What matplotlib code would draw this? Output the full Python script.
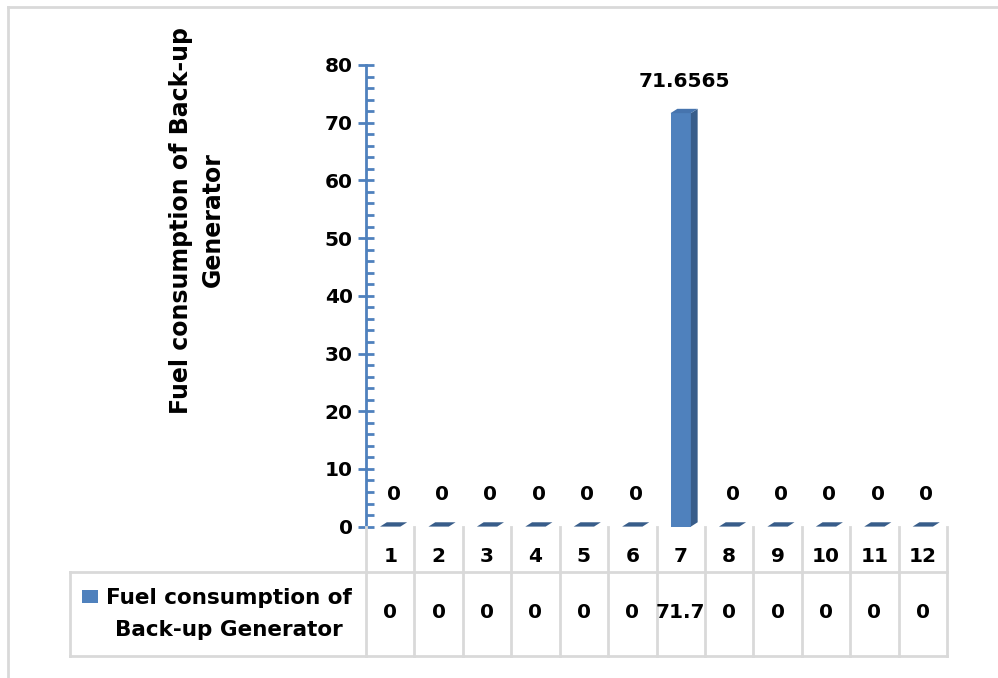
import matplotlib
matplotlib.use("Agg")
import matplotlib.pyplot as plt
from matplotlib.lines import Line2D
from matplotlib.patches import Polygon, Rectangle
from matplotlib.ticker import MultipleLocator
import matplotlib.transforms as mtransforms

plt.rcParams["font.family"] = ["DejaVu Sans"]
plt.rcParams["font.weight"] = "bold"

MONTHS = [str(m) for m in range(1, 13)]
FUEL = [0, 0, 0, 0, 0, 0, 71.6565, 0, 0, 0, 0, 0]
SERIES_NAME = "Fuel consumption of\nBack-up Generator"
YLABEL = "Fuel consumption of Back-up\nGenerator"

W, H = 998, 678
FRONT = "#4F81BD"
SIDE = "#385D8A"
TOP = "#4674AE"
GRID = "#D9D9D9"
AXIS = "#4F81BD"
NUM_FS = 14.5
TXT_FS = 15.5


def fx(px):
    return px / W


def fy(py):
    return 1 - py / H


fig = plt.figure(figsize=(W / 100, H / 100), dpi=100)
ax = fig.add_axes([fx(366), fy(526.6), fx(947) - fx(366), fy(65) - fy(526.6)])
ax.set_xlim(0.5, 12.5)
ax.set_ylim(0, 80)

# pseudo-3D columns: front face, darker side face and top face
xs = list(range(1, 13))
bw = 0.42            # front width (data units)
dx, dy = 0.14, 0.75  # depth offset
for x, v in zip(xs, FUEL):
    x0, x1 = x - bw / 2, x + bw / 2
    if v > 0:
        ax.add_patch(Rectangle((x0, 0), bw, v, facecolor=FRONT, edgecolor="none"))
        ax.add_patch(Polygon([(x1, 0), (x1 + dx, dy), (x1 + dx, v + dy), (x1, v)],
                             facecolor=SIDE, edgecolor="none"))
        ax.add_patch(Polygon([(x0, v), (x1, v), (x1 + dx, v + dy), (x0 + dx, v + dy)],
                             facecolor=TOP, edgecolor="none"))
    else:
        ax.add_patch(Polygon([(x0, 0), (x1, 0), (x1 + dx, dy), (x0 + dx, dy)],
                             facecolor=SIDE, edgecolor="none"))
    ax.annotate(f"{v:g}", (x + dx / 2, v + dy), xytext=(0, 20),
                textcoords="offset points", ha="center", va="center",
                fontsize=NUM_FS, fontweight="bold")

for s in ["top", "right", "bottom"]:
    ax.spines[s].set_visible(False)
ax.spines["left"].set_color(AXIS)
ax.spines["left"].set_linewidth(2)
ax.yaxis.set_major_locator(MultipleLocator(10))
ax.yaxis.set_minor_locator(MultipleLocator(2))
ax.tick_params(axis="y", which="major", direction="inout", length=11, width=2,
               color=AXIS, labelsize=NUM_FS, pad=4)
ax.tick_params(axis="y", which="minor", direction="in", length=6, width=2, color=AXIS)
ax.set_xticks([])
for lab in ax.get_yticklabels():
    lab.set_fontweight("bold")

fig.text(fx(197), fy(220), YLABEL, rotation=90, ha="center", va="center",
         multialignment="center", fontsize=17, fontweight="bold", linespacing=1.45)

# data table under the plot
blend = mtransforms.blended_transform_factory(ax.transData, fig.transFigure)
row_top, row_mid, row_bot = fy(526.6), fy(572), fy(656)
edges = [x - 0.5 for x in xs] + [xs[-1] + 0.5]
for e in edges:
    fig.add_artist(Line2D([e, e], [row_top, row_bot], transform=blend,
                          color=GRID, lw=2))
fig.add_artist(Line2D([fx(70), fx(947)], [row_mid, row_mid],
                      transform=fig.transFigure, color=GRID, lw=2))
fig.add_artist(Line2D([fx(70), fx(947)], [row_bot, row_bot],
                      transform=fig.transFigure, color=GRID, lw=2))
fig.add_artist(Line2D([fx(70), fx(70)], [row_mid, row_bot],
                      transform=fig.transFigure, color=GRID, lw=2))
for x, m, v in zip(xs, MONTHS, FUEL):
    fig.text(x, fy(556), m, transform=blend, ha="center", va="center",
             fontsize=NUM_FS, fontweight="bold")
    fig.text(x, fy(613), f"{round(v, 1):g}", transform=blend, ha="center",
             va="center", fontsize=NUM_FS, fontweight="bold")

fig.add_artist(Rectangle((fx(82), fy(603)), fx(16), fy(590) - fy(603),
                         transform=fig.transFigure, facecolor=FRONT, edgecolor="none"))
fig.text(fx(229), fy(614), SERIES_NAME, ha="center", va="center",
         multialignment="center", fontsize=TXT_FS, fontweight="bold", linespacing=1.75)

# chart area frame
fig.add_artist(Line2D([fx(8), fx(998)], [fy(7), fy(7)], transform=fig.transFigure,
                      color=GRID, lw=2))
fig.add_artist(Line2D([fx(8), fx(8)], [fy(7), fy(678)], transform=fig.transFigure,
                      color=GRID, lw=2))

fig.savefig("out.png", dpi=100)
